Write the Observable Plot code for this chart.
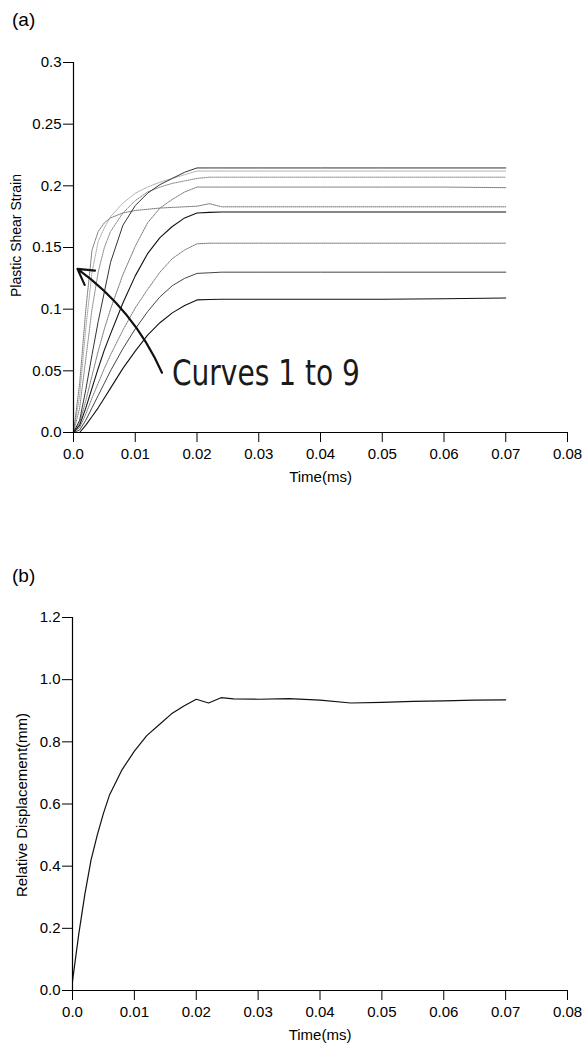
<!DOCTYPE html>
<html><head><meta charset="utf-8">
<script src="https://cdn.jsdelivr.net/npm/d3@7"></script>
<script src="https://cdn.jsdelivr.net/npm/@observablehq/plot@0.6"></script>
<style>
body{margin:0;background:#fff;}
#wrap{position:relative;width:582px;height:1047px;background:#fff;font-family:"Liberation Sans",Arial,sans-serif;color:#000;}
.panel{position:absolute;left:12px;font-size:19px;line-height:19px;z-index:5;}
.chart{position:absolute;left:0;z-index:1;}
svg{display:block;}
</style></head><body><div id="wrap">
<div class="panel" style="top:10px">(a)</div>
<div class="panel" style="top:566px">(b)</div>
<div class="chart" id="top" style="top:0px"></div>
<div class="chart" id="bottom" style="top:500px"></div>
</div>
<script>
// ---- data: panel (a) plastic shear strain ----
const time = [0, 0.001, 0.002, 0.003, 0.004, 0.005, 0.006, 0.008, 0.010, 0.012, 0.014, 0.016, 0.018, 0.020, 0.022, 0.024, 0.030, 0.040, 0.050, 0.060, 0.070];
const curve1 = [0, 0, 0.006, 0.013, 0.020, 0.028, 0.036, 0.052, 0.066, 0.079, 0.089, 0.097, 0.103, 0.1075, 0.1078, 0.108, 0.108, 0.108, 0.108, 0.1085, 0.109];
const curve2 = [0, 0.002, 0.010, 0.020, 0.030, 0.040, 0.050, 0.068, 0.084, 0.098, 0.110, 0.119, 0.125, 0.129, 0.1295, 0.130, 0.130, 0.130, 0.130, 0.130, 0.130];
const curve3 = [0, 0.004, 0.015, 0.028, 0.040, 0.052, 0.063, 0.083, 0.101, 0.116, 0.130, 0.141, 0.148, 0.153, 0.1535, 0.1535, 0.1535, 0.1535, 0.1535, 0.1535, 0.1535];
const curve4 = [0, 0.006, 0.020, 0.036, 0.052, 0.067, 0.080, 0.105, 0.127, 0.145, 0.158, 0.167, 0.174, 0.178, 0.1785, 0.1788, 0.1788, 0.1788, 0.1788, 0.1788, 0.1788];
const curve5 = [0, 0.008, 0.026, 0.046, 0.066, 0.084, 0.100, 0.128, 0.151, 0.170, 0.182, 0.189, 0.195, 0.199, 0.199, 0.199, 0.199, 0.199, 0.199, 0.199, 0.1985];
const curve6 = [0, 0.010, 0.035, 0.063, 0.090, 0.114, 0.138, 0.168, 0.184, 0.194, 0.201, 0.206, 0.211, 0.2145, 0.2145, 0.2145, 0.2145, 0.2145, 0.2145, 0.2145, 0.2145];
const curve7 = [0, 0.020, 0.060, 0.100, 0.130, 0.150, 0.163, 0.178, 0.188, 0.195, 0.199, 0.202, 0.204, 0.206, 0.207, 0.207, 0.207, 0.207, 0.207, 0.207, 0.207];
const curve8 = [0, 0.030, 0.085, 0.130, 0.155, 0.166, 0.175, 0.186, 0.194, 0.199, 0.203, 0.206, 0.209, 0.212, 0.212, 0.212, 0.212, 0.212, 0.212, 0.212, 0.212];
const curve9 = [0, 0.040, 0.100, 0.148, 0.163, 0.170, 0.174, 0.178, 0.180, 0.181, 0.182, 0.1825, 0.183, 0.1835, 0.1855, 0.183, 0.183, 0.183, 0.183, 0.183, 0.183];
const curves = [curve1, curve2, curve3, curve4, curve5, curve6, curve7, curve8, curve9];

// ---- data: panel (b) relative displacement ----
const dispTime = [0, 0.001, 0.002, 0.003, 0.004, 0.005, 0.006, 0.008, 0.010, 0.012, 0.014, 0.016, 0.018, 0.020, 0.022, 0.024, 0.026, 0.030, 0.035, 0.040, 0.045, 0.050, 0.055, 0.060, 0.065, 0.070];
const displacement = [0.03, 0.18, 0.31, 0.42, 0.50, 0.57, 0.63, 0.71, 0.77, 0.82, 0.855, 0.89, 0.915, 0.937, 0.925, 0.942, 0.938, 0.937, 0.939, 0.934, 0.925, 0.927, 0.930, 0.932, 0.934, 0.935];

// ---- ticks ----
const timeTicks = [0, 0.01, 0.02, 0.03, 0.04, 0.05, 0.06, 0.07, 0.08];
const timeTickLabels = ["0.0", "0.01", "0.02", "0.03", "0.04", "0.05", "0.06", "0.07", "0.08"];
const strainTicks = [0, 0.05, 0.1, 0.15, 0.2, 0.25, 0.3];
const strainTickLabels = ["0.0", "0.05", "0.1", "0.15", "0.2", "0.25", "0.3"];
const dispTicks = [0, 0.2, 0.4, 0.6, 0.8, 1.0, 1.2];
const dispTickLabels = ["0.0", "0.2", "0.4", "0.6", "0.8", "1.0", "1.2"];
const annotationText = "Curves 1 to 9";

// ---- styles ----
const FONT = "'Liberation Sans', Arial, Helvetica, sans-serif";
const FS = 15;
const curveStyles = [
  {stroke: "#111", dash: null, w: 1.1},
  {stroke: "#444", dash: null, w: 1},
  {stroke: "#777", dash: "1,1", w: 1},
  {stroke: "#111", dash: null, w: 1.1},
  {stroke: "#777", dash: "1,1", w: 1},
  {stroke: "#333", dash: null, w: 1},
  {stroke: "#888", dash: "1,1", w: 1},
  {stroke: "#aaa", dash: "1,1", w: 1},
  {stroke: "#777", dash: "1,1", w: 1}
];
const fmt = (ticks, labels) => d => labels[ticks.findIndex(t => Math.abs(t - d) < 1e-9)];

const strainRows = curves.map((vals, i) => time.map((t, j) => ({t, v: vals[j], curve: i + 1})));
const order = [2, 4, 6, 7, 8, 1, 5, 3, 0];

const axisCommon = {tickSize: 10, fontSize: FS, stroke: "#000"};

const topPlot = Plot.plot({
  width: 582, height: 500,
  marginTop: 62, marginBottom: 68, marginLeft: 73, marginRight: 15,
  x: {domain: [0, 0.08]},
  y: {domain: [0, 0.3]},
  style: {fontFamily: FONT, fontSize: FS + "px", color: "#000", background: "#fff"},
  marks: [
    ...order.map(i => Plot.line(strainRows[i], {x: "t", y: "v", stroke: curveStyles[i].stroke, strokeWidth: curveStyles[i].w, strokeDasharray: curveStyles[i].dash})),
    Plot.ruleX([0], {stroke: "#000", strokeWidth: 1.2}),
    Plot.ruleY([0], {stroke: "#000", strokeWidth: 1.2}),
    Plot.axisX({...axisCommon, ticks: timeTicks, tickPadding: 6, tickFormat: fmt(timeTicks, timeTickLabels), label: null}),
    Plot.axisY({...axisCommon, ticks: strainTicks, tickPadding: 2, tickFormat: fmt(strainTicks, strainTickLabels), label: null}),
    Plot.text(["Time(ms)"], {frameAnchor: "bottom", dy: 49, fontSize: FS, fill: "#000"}),
    Plot.text(["Plastic Shear Strain"], {frameAnchor: "left", textAnchor: "middle", rotate: -90, dx: -57, dy: -12, fontSize: 14, fill: "#000"}),
    Plot.arrow([{x1: 0.01433, y1: 0.0485, x2: 0.00064, y2: 0.1327}], {x1: "x1", y1: "y1", x2: "x2", y2: "y2", bend: -15, stroke: "#111", strokeWidth: 2.2, headLength: 12}),
    Plot.text([{x: 0.01594, y: 0.0478}], {x: "x", y: "y", text: () => annotationText, textAnchor: "start", fontSize: 36, fontFamily: "'DejaVu Sans Condensed', 'DejaVu Sans', sans-serif", fill: "#1a1a1a"})
  ]
});
document.getElementById("top").appendChild(topPlot);
// fit the hand-lettered annotation to its width in the reference
d3.select(topPlot).selectAll("text").filter(function() { return this.textContent === annotationText; })
  .attr("textLength", 188).attr("lengthAdjust", "spacingAndGlyphs");

const dispRows = dispTime.map((t, i) => ({t, v: displacement[i]}));
const bottomPlot = Plot.plot({
  width: 582, height: 547,
  marginTop: 117, marginBottom: 57, marginLeft: 72, marginRight: 15,
  x: {domain: [0, 0.08]},
  y: {domain: [0, 1.2]},
  style: {fontFamily: FONT, fontSize: FS + "px", color: "#000", background: "#fff"},
  marks: [
    Plot.line(dispRows, {x: "t", y: "v", stroke: "#111", strokeWidth: 1.2}),
    Plot.ruleX([0], {stroke: "#000", strokeWidth: 1.2}),
    Plot.ruleY([0], {stroke: "#000", strokeWidth: 1.2}),
    Plot.axisX({...axisCommon, ticks: timeTicks, tickPadding: 6, tickFormat: fmt(timeTicks, timeTickLabels), label: null}),
    Plot.axisY({...axisCommon, ticks: dispTicks, tickPadding: 2, tickFormat: fmt(dispTicks, dispTickLabels), label: null}),
    Plot.text(["Time(ms)"], {frameAnchor: "bottom", dy: 49, fontSize: FS, fill: "#000"}),
    Plot.text(["Relative Displacement(mm)"], {frameAnchor: "left", textAnchor: "middle", rotate: -90, dx: -50, dy: 1, fontSize: 15, fill: "#000"})
  ]
});
document.getElementById("bottom").appendChild(bottomPlot);
</script>
</body></html>
